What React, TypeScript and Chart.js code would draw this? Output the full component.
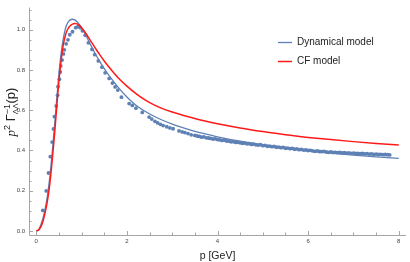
import React, { useEffect, useRef } from "react";
import { Chart, registerables } from "chart.js";

Chart.register(...registerables);

const seriesNames = ["Dynamical model", "CF model"];
const seriesColors = ["#5E81B5", "#FF1A1A"];
const pointColor = "#5E81B5";

const xTickValues = [0, 2, 4, 6, 8];
const yTickValues = [0, 0.2, 0.4, 0.6, 0.8, 1.0];
const xAxisTitle = "p [GeV]";

const curveP = [
  0, 0.05, 0.1, 0.15, 0.2, 0.25, 0.3, 0.35, 0.4, 0.45, 0.5, 0.55, 0.6, 0.65, 0.7, 0.75, 0.8, 0.85,
  0.9, 0.95, 1.0, 1.1, 1.2, 1.3, 1.4, 1.5, 1.6, 1.8, 2.0, 2.2, 2.4, 2.6, 2.8, 3.0, 3.25, 3.5, 3.75,
  4.0, 4.5, 5.0, 5.5, 6.0, 6.5, 7.0, 7.5, 8.0,
];

const dynamicalModel = [
  0, 0.006, 0.03, 0.065, 0.115, 0.18, 0.27, 0.385, 0.515, 0.65, 0.78, 0.885, 0.96, 1.01, 1.037,
  1.049, 1.052, 1.049, 1.04, 1.027, 1.01, 0.97, 0.925, 0.882, 0.843, 0.807, 0.774, 0.716, 0.666,
  0.625, 0.595, 0.570, 0.549, 0.531, 0.512, 0.495, 0.481, 0.468, 0.446, 0.428, 0.412, 0.398, 0.387,
  0.377, 0.368, 0.361,
];

const cfModel = [
  0, 0.004, 0.02, 0.05, 0.095, 0.155, 0.235, 0.345, 0.47, 0.61, 0.745, 0.85, 0.93, 0.978, 1.005,
  1.02, 1.028, 1.031, 1.029, 1.022, 1.01, 0.98, 0.945, 0.91, 0.876, 0.845, 0.816, 0.763, 0.72,
  0.683, 0.652, 0.627, 0.607, 0.591, 0.574, 0.559, 0.545, 0.533, 0.512, 0.494, 0.478, 0.465, 0.454,
  0.444, 0.435, 0.427,
];

const observedPoints: [number, number][] = [
  [0.145, 0.102], [0.22, 0.199], [0.27, 0.288], [0.31, 0.369], [0.35, 0.442], [0.38, 0.507],
  [0.4, 0.568], [0.44, 0.621], [0.47, 0.674], [0.48, 0.717], [0.51, 0.754], [0.53, 0.79],
  [0.54, 0.82], [0.57, 0.849], [0.6, 0.88], [0.62, 0.9], [0.66, 0.93], [0.7, 0.95], [0.74, 0.975],
  [0.8, 0.99], [0.87, 1.01], [0.92, 1.015], [0.97, 1.01], [1.02, 0.995], [1.08, 0.972],
  [1.15, 0.935], [1.23, 0.902], [1.29, 0.876], [1.37, 0.845], [1.45, 0.814], [1.52, 0.786],
  [1.61, 0.758], [1.68, 0.735], [1.74, 0.716], [1.8, 0.7], [1.88, 0.665], [2.05, 0.633],
  [2.12, 0.624], [2.2, 0.61], [2.34, 0.589], [2.49, 0.566], [2.55, 0.556], [2.62, 0.545],
  [2.68, 0.537], [2.74, 0.53], [2.8, 0.524], [2.88, 0.518], [2.95, 0.512], [3.02, 0.508],
  [3.15, 0.497], [3.22, 0.492], [3.28, 0.489], [3.35, 0.484], [3.42, 0.478], [3.5, 0.475],
  [3.55, 0.472], [3.6, 0.47], [3.65, 0.466], [3.7, 0.468], [3.75, 0.463], [3.8, 0.462],
  [3.85, 0.46], [3.9, 0.457], [3.95, 0.458], [4.0, 0.454], [4.05, 0.453], [4.1, 0.45],
  [4.15, 0.451], [4.2, 0.447], [4.25, 0.446], [4.3, 0.443], [4.35, 0.444], [4.4, 0.44],
  [4.45, 0.441], [4.5, 0.438], [4.55, 0.436], [4.6, 0.437], [4.65, 0.433], [4.7, 0.434],
  [4.75, 0.43], [4.8, 0.432], [4.85, 0.428], [4.9, 0.427], [4.95, 0.429], [5.0, 0.424],
  [5.05, 0.425], [5.1, 0.421], [5.15, 0.422], [5.2, 0.419], [5.25, 0.42], [5.3, 0.416],
  [5.35, 0.417], [5.4, 0.414], [5.45, 0.415], [5.5, 0.411], [5.55, 0.412], [5.6, 0.409],
  [5.65, 0.41], [5.7, 0.406], [5.75, 0.408], [5.8, 0.404], [5.85, 0.405], [5.9, 0.402],
  [5.95, 0.403], [6.0, 0.4], [6.05, 0.401], [6.1, 0.398], [6.15, 0.396], [6.2, 0.398],
  [6.25, 0.395], [6.3, 0.394], [6.35, 0.396], [6.4, 0.393], [6.45, 0.391], [6.5, 0.393],
  [6.55, 0.39], [6.6, 0.391], [6.65, 0.389], [6.7, 0.39], [6.75, 0.388], [6.8, 0.389],
  [6.85, 0.387], [6.9, 0.388], [6.95, 0.386], [7.0, 0.387], [7.05, 0.385], [7.1, 0.386],
  [7.15, 0.384], [7.2, 0.385], [7.25, 0.383], [7.3, 0.384], [7.35, 0.382], [7.4, 0.383],
  [7.45, 0.381], [7.5, 0.382], [7.55, 0.38], [7.6, 0.381], [7.65, 0.379], [7.7, 0.38],
  [7.75, 0.379], [7.8, 0.378],
];

const FONT = "'Liberation Sans', Arial, sans-serif";
const SERIF = "'Liberation Serif', 'Times New Roman', serif";

const decorPlugin = {
  id: "decor",
  afterDraw(chart: any) {
    const { ctx, chartArea: a, scales } = chart;
    const x = scales.x;
    const y = scales.y;
    ctx.save();
    // axes
    ctx.strokeStyle = "#a6a6a6";
    ctx.lineWidth = 1;
    ctx.beginPath();
    ctx.moveTo(a.left + 0.5, a.top);
    ctx.lineTo(a.left + 0.5, a.bottom + 0.5);
    ctx.lineTo(a.right, a.bottom + 0.5);
    ctx.stroke();
    // x ticks (inward)
    ctx.beginPath();
    for (let i = 0; i * 0.5 <= x.max; i++) {
      const v = i * 0.5;
      const px = Math.round(x.getPixelForValue(v)) + 0.5;
      const len = i % 4 === 0 ? 4 : 2.5;
      ctx.moveTo(px, a.bottom);
      ctx.lineTo(px, a.bottom - len);
    }
    // y ticks (inward)
    for (let i = 0; i * 0.05 <= y.max + 1e-9; i++) {
      const v = i * 0.05;
      const py = Math.round(y.getPixelForValue(v)) + 0.5;
      const len = i % 4 === 0 ? 4 : 2.5;
      ctx.moveTo(a.left, py);
      ctx.lineTo(a.left + len, py);
    }
    ctx.stroke();

    // x title
    ctx.fillStyle = "#222";
    ctx.font = `10.5px ${FONT}`;
    ctx.textAlign = "center";
    ctx.textBaseline = "middle";
    ctx.fillText(xAxisTitle, (a.left + a.right) / 2, 256);

    // y title: p² Γ_ΛΛ^{-1}(p)
    ctx.save();
    ctx.translate(11, 112);
    ctx.rotate(-Math.PI / 2);
    const big = 13;
    const small = 9;
    const parts: { t: string; f: string; dy: number; stackNext?: boolean }[] = [
      { t: "p", f: `italic ${big}px ${SERIF}`, dy: 0 },
      { t: "2", f: `${small}px ${FONT}`, dy: -5.5 },
      { t: " \u0393", f: `${big}px ${FONT}`, dy: 0 },
      { t: "\u039B\u039B", f: `${small - 1}px ${FONT}`, dy: 3, stackNext: true },
      { t: "\u22121", f: `${small}px ${FONT}`, dy: -5.5 },
      { t: "(p)", f: `${big}px ${FONT}`, dy: 0 },
    ];
    let total = 0;
    const widths: number[] = [];
    for (let i = 0; i < parts.length; i++) {
      ctx.font = parts[i].f;
      widths.push(ctx.measureText(parts[i].t).width);
    }
    for (let i = 0; i < parts.length; i++) {
      if (parts[i].stackNext) {
        total += Math.max(widths[i], widths[i + 1]);
        i++;
      } else total += widths[i];
    }
    let cx = -total / 2;
    ctx.textAlign = "left";
    ctx.textBaseline = "alphabetic";
    ctx.fillStyle = "#222";
    const base = 4;
    for (let i = 0; i < parts.length; i++) {
      const p = parts[i];
      ctx.font = p.f;
      if (p.stackNext) {
        const q = parts[i + 1];
        ctx.fillText(p.t, cx, base + p.dy);
        ctx.font = q.f;
        ctx.fillText(q.t, cx, base + q.dy);
        cx += Math.max(widths[i], widths[i + 1]);
        i++;
      } else {
        ctx.fillText(p.t, cx, base + p.dy);
        cx += widths[i];
      }
    }
    ctx.restore();

    // legend
    const lx = 278;
    const ly = [42, 61];
    ctx.font = `10px ${FONT}`;
    ctx.textAlign = "left";
    ctx.textBaseline = "middle";
    for (let i = 0; i < seriesNames.length; i++) {
      ctx.strokeStyle = seriesColors[i];
      ctx.lineWidth = i === 1 ? 1.5 : 1.3;
      ctx.beginPath();
      ctx.moveTo(lx, ly[i] + 0.5);
      ctx.lineTo(lx + 14, ly[i] + 0.5);
      ctx.stroke();
      ctx.fillStyle = "#222";
      ctx.fillText(seriesNames[i], lx + 19, ly[i] + 0.5);
    }
    ctx.restore();
  },
};

export default function App() {
  const canvasRef = useRef<HTMLCanvasElement | null>(null);

  useEffect(() => {
    document.body.style.margin = "0";
    const canvas = canvasRef.current;
    if (!canvas) return;
    const chart = new Chart(canvas, {
      type: "line",
      data: {
        datasets: [
          {
            type: "line",
            label: seriesNames[1],
            data: curveP.map((p, i) => ({ x: p, y: cfModel[i] })),
            borderColor: seriesColors[1],
            borderWidth: 1.5,
            pointRadius: 0,
            cubicInterpolationMode: "monotone",
            order: 0,
          },
          {
            type: "scatter",
            label: "data",
            data: observedPoints.map(([p, v]) => ({ x: p, y: v })),
            backgroundColor: pointColor,
            borderWidth: 0,
            pointRadius: 1.9,
            order: 1,
          },
          {
            type: "line",
            label: seriesNames[0],
            data: curveP.map((p, i) => ({ x: p, y: dynamicalModel[i] })),
            borderColor: seriesColors[0],
            borderWidth: 1.3,
            pointRadius: 0,
            cubicInterpolationMode: "monotone",
            order: 2,
          },
        ] as any,
      },
      plugins: [decorPlugin],
      options: {
        animation: false,
        responsive: true,
        maintainAspectRatio: false,
        layout: { padding: { left: 0, right: 1, top: 0, bottom: 0 } },
        plugins: { legend: { display: false }, tooltip: { enabled: false } },
        scales: {
          x: {
            type: "linear",
            min: -0.16,
            max: 8.16,
            grid: { display: false, drawTicks: false },
            border: { display: false },
            afterBuildTicks: (s: any) => {
              s.ticks = xTickValues.map((v) => ({ value: v }));
            },
            afterFit: (s: any) => {
              s.height = 27;
            },
            ticks: {
              padding: 3,
              color: "#444",
              font: { size: 6, family: FONT },
              maxRotation: 0,
              callback: (v: any) => String(v),
            },
          },
          y: {
            type: "linear",
            min: -0.02,
            max: 1.11,
            grid: { display: false, drawTicks: false },
            border: { display: false },
            afterBuildTicks: (s: any) => {
              s.ticks = yTickValues.map((v) => ({ value: v }));
            },
            afterFit: (s: any) => {
              s.width = 29;
            },
            ticks: {
              padding: 4,
              color: "#444",
              font: { size: 6, family: FONT },
              callback: (v: any) => Number(v).toFixed(1),
            },
          },
        },
      } as any,
    });
    return () => chart.destroy();
  }, []);

  return (
    <div style={{ position: "fixed", left: 0, top: 0, width: 410, height: 262 }}>
      <canvas ref={canvasRef} />
    </div>
  );
}
